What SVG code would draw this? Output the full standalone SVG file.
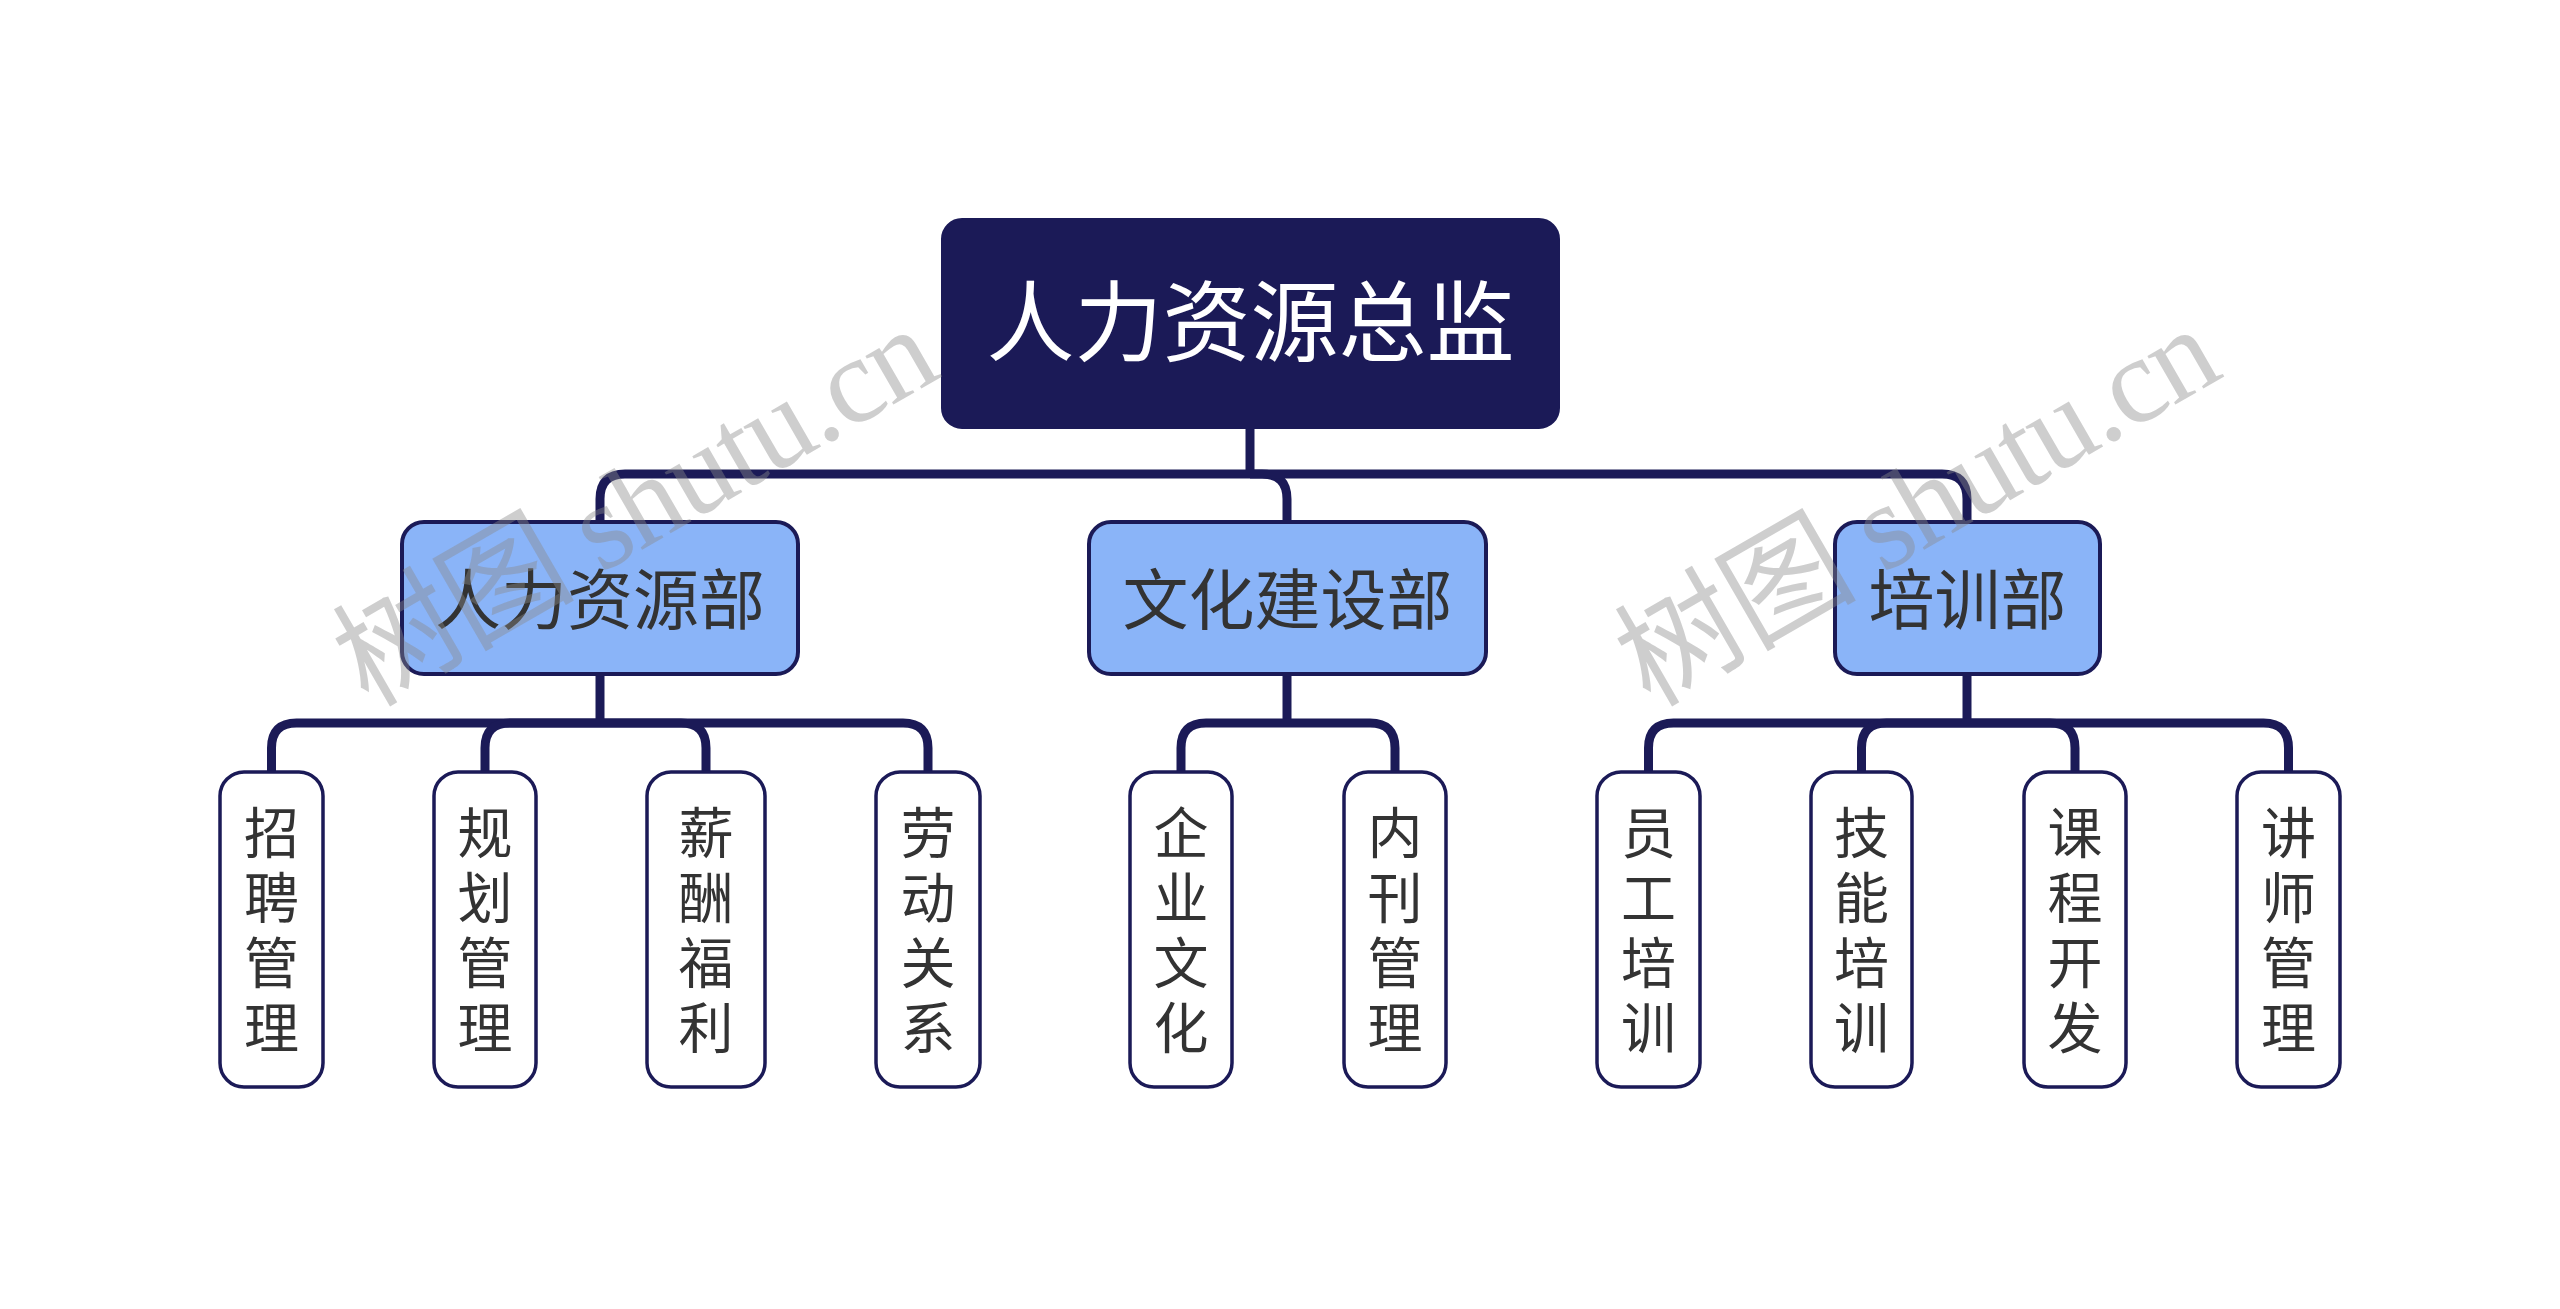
<svg xmlns="http://www.w3.org/2000/svg" width="2560" height="1309" viewBox="0 0 2560 1309">
<style>
.conn{fill:none;stroke:#1b1a57;stroke-width:9;stroke-linejoin:round}
.root{fill:#1b1a57;stroke:#1b1a57;stroke-width:2}
.dept{fill:#8ab4f8;stroke:#1b1a57;stroke-width:4}
.leaf{fill:#ffffff;stroke:#1b1a57;stroke-width:3.5}
.t{font-family:"Noto Sans CJK SC","Noto Sans",sans-serif;text-anchor:middle}
.rt{font-size:88px;fill:#ffffff}
.dt{font-size:66px;fill:#333333}
.lt{font-size:55px;fill:#333333;writing-mode:vertical-rl;letter-spacing:10px}
.wm{font-family:"Liberation Serif","Noto Sans CJK SC",serif;font-size:122px;fill:#8a8a8a;fill-opacity:0.42}
</style>
<rect width="2560" height="1309" fill="#ffffff"/>
<g id="connectors">
<path class="conn" d="M1250 428 V474"/>
<path class="conn" d="M1250 474 H625 Q600 474 600 499 V522"/>
<path class="conn" d="M1250 474 H1262 Q1287 474 1287 499 V522"/>
<path class="conn" d="M1250 474 H1942 Q1967 474 1967 499 V522"/>
<path class="conn" d="M600 674 V723"/>
<path class="conn" d="M600 723 H296.5 Q271.5 723 271.5 748 V772"/>
<path class="conn" d="M600 723 H510 Q485 723 485 748 V772"/>
<path class="conn" d="M600 723 H681 Q706 723 706 748 V772"/>
<path class="conn" d="M600 723 H903 Q928 723 928 748 V772"/>
<path class="conn" d="M1287 674 V723"/>
<path class="conn" d="M1287 723 H1206 Q1181 723 1181 748 V772"/>
<path class="conn" d="M1287 723 H1370 Q1395 723 1395 748 V772"/>
<path class="conn" d="M1967 674 V723"/>
<path class="conn" d="M1967 723 H1673.5 Q1648.5 723 1648.5 748 V772"/>
<path class="conn" d="M1967 723 H1886.5 Q1861.5 723 1861.5 748 V772"/>
<path class="conn" d="M1967 723 H2050 Q2075 723 2075 748 V772"/>
<path class="conn" d="M1967 723 H2263.5 Q2288.5 723 2288.5 748 V772"/>
</g>
<g id="root">
<rect class="root" x="942" y="219" width="617" height="209" rx="20"/>
<text class="t rt" x="1250.5" y="354">人力资源总监</text>
</g>
<g id="dept-hr">
<rect class="dept" x="402" y="522" width="396" height="152" rx="22"/>
<text class="t dt" x="600" y="624">人力资源部</text>
</g>
<g id="dept-culture">
<rect class="dept" x="1089" y="522" width="397" height="152" rx="22"/>
<text class="t dt" x="1287.5" y="624">文化建设部</text>
</g>
<g id="dept-training">
<rect class="dept" x="1835" y="522" width="265" height="152" rx="22"/>
<text class="t dt" x="1967.5" y="624">培训部</text>
</g>
<g id="leaf-1">
<rect class="leaf" x="220" y="772" width="103" height="315" rx="24"/>
<text class="t lt" x="271.5" y="935">招聘管理</text>
</g>
<g id="leaf-2">
<rect class="leaf" x="434" y="772" width="102" height="315" rx="24"/>
<text class="t lt" x="485" y="935">规划管理</text>
</g>
<g id="leaf-3">
<rect class="leaf" x="647" y="772" width="118" height="315" rx="24"/>
<text class="t lt" x="706" y="935">薪酬福利</text>
</g>
<g id="leaf-4">
<rect class="leaf" x="876" y="772" width="104" height="315" rx="24"/>
<text class="t lt" x="928" y="935">劳动关系</text>
</g>
<g id="leaf-5">
<rect class="leaf" x="1130" y="772" width="102" height="315" rx="24"/>
<text class="t lt" x="1181" y="935">企业文化</text>
</g>
<g id="leaf-6">
<rect class="leaf" x="1344" y="772" width="102" height="315" rx="24"/>
<text class="t lt" x="1395" y="935">内刊管理</text>
</g>
<g id="leaf-7">
<rect class="leaf" x="1597" y="772" width="103" height="315" rx="24"/>
<text class="t lt" x="1648.5" y="935">员工培训</text>
</g>
<g id="leaf-8">
<rect class="leaf" x="1811" y="772" width="101" height="315" rx="24"/>
<text class="t lt" x="1861.5" y="935">技能培训</text>
</g>
<g id="leaf-9">
<rect class="leaf" x="2024" y="772" width="102" height="315" rx="24"/>
<text class="t lt" x="2075" y="935">课程开发</text>
</g>
<g id="leaf-10">
<rect class="leaf" x="2237" y="772" width="103" height="315" rx="24"/>
<text class="t lt" x="2288.5" y="935">讲师管理</text>
</g>
<g id="watermarks">
<text class="wm" transform="translate(368 708) rotate(-30)" textLength="665" lengthAdjust="spacing">树图 shutu.cn</text>
<text class="wm" transform="translate(1650 708) rotate(-30)" textLength="665" lengthAdjust="spacing">树图 shutu.cn</text>
</g>
</svg>
